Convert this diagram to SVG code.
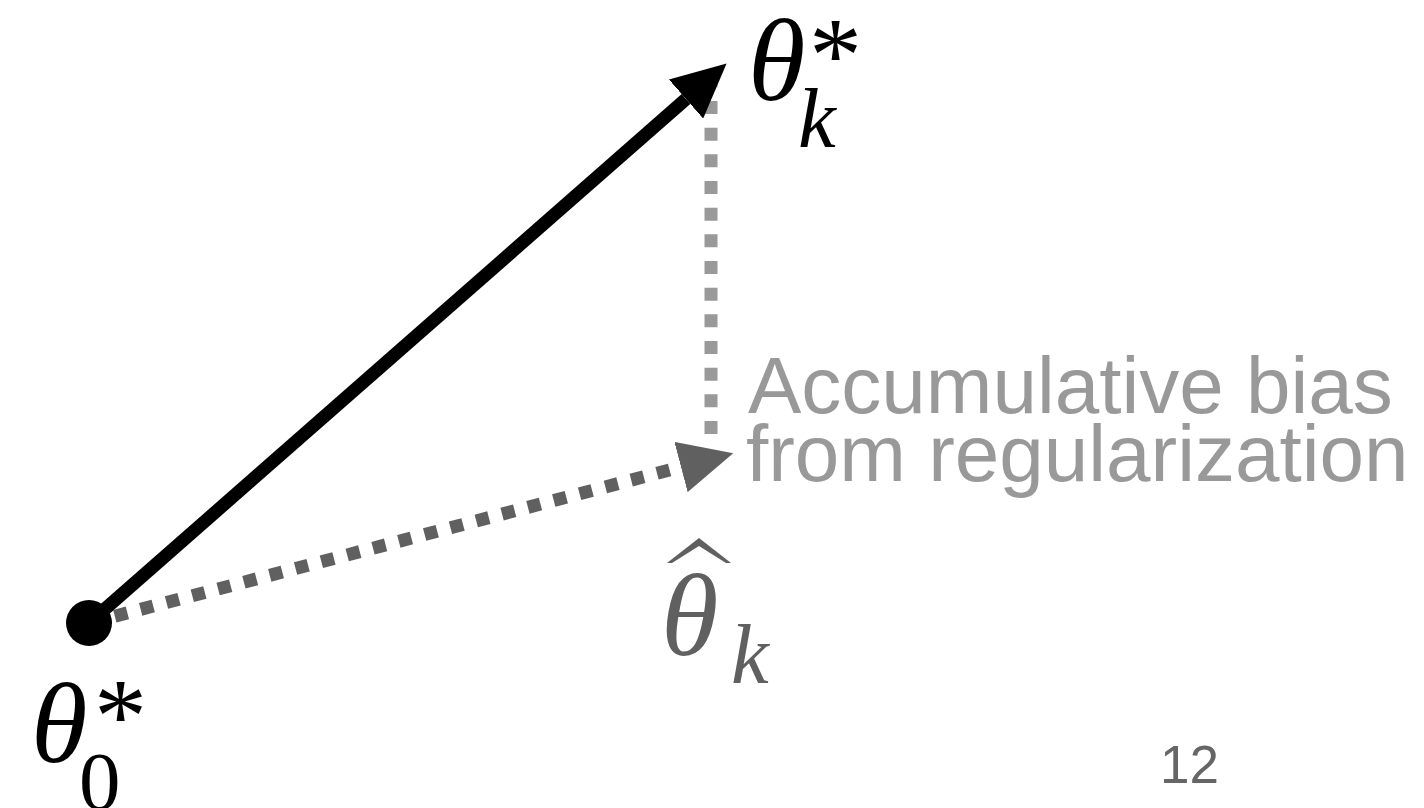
<svg xmlns="http://www.w3.org/2000/svg" width="1424" height="808" viewBox="0 0 1424 808">
  <style>
    .math { font-family: "Liberation Serif", "Times New Roman", serif; font-style: italic; }
    .up { font-family: "Liberation Serif", "Times New Roman", serif; }
    .label { font-family: "Liberation Sans", Arial, sans-serif; font-size: 80px; fill: #999999; }
  </style>
  <defs>
    <marker id="headBlack" markerUnits="userSpaceOnUse" viewBox="0 0 54 52" markerWidth="54" markerHeight="52" refX="0" refY="26" orient="auto">
      <path d="M0,0 L54,26 L0,52 Z" fill="#000000"/>
    </marker>
    <marker id="headGray" markerUnits="userSpaceOnUse" viewBox="0 0 54 52" markerWidth="54" markerHeight="52" refX="0" refY="26" orient="auto">
      <path d="M0,0 L54,26 L0,52 Z" fill="#606060"/>
    </marker>
  </defs>
  <rect width="1424" height="808" fill="#ffffff"/>
  <g id="connectors">
    <path d="M711,434 L711,74" fill="none" stroke="#999999" stroke-width="13" stroke-dasharray="13 13.67"/>
    <path d="M89,623 L681,467" fill="none" stroke="#606060" stroke-width="13" stroke-dasharray="13 13.7" marker-end="url(#headGray)"/>
    <path d="M89,623 L686,99" fill="none" stroke="#000000" stroke-width="13" marker-end="url(#headBlack)"/>
  </g>
  <g id="theta0-star">
    <circle cx="89" cy="623" r="23" fill="#000000"/>
    <text class="math" x="31" y="762" font-size="115">θ</text>
    <text class="up" x="94" y="752" font-size="106">*</text>
    <text class="up" x="79" y="809" font-size="83">0</text>
  </g>
  <g id="thetak-star">
    <text class="math" x="748" y="100" font-size="117">θ</text>
    <text class="up" x="809" y="91" font-size="106">*</text>
    <text class="math" x="798" y="147" font-size="85">k</text>
  </g>
  <g id="thetak-hat" fill="#606060">
    <path d="M667,563 L699,538 L731,563 L726,563 L699,546 L672,563 Z"/>
    <text class="math" x="661" y="655" font-size="117">θ</text>
    <text class="math" x="731" y="683" font-size="85">k</text>
  </g>
  <g id="bias-label">
    <text class="label" x="748" y="413">Accumulative bias</text>
    <text class="label" x="746" y="481">from regularization</text>
  </g>
  <text id="page-number" x="1160" y="783" font-family="Liberation Sans, Arial, sans-serif" font-size="53" fill="#666666">12</text>
</svg>
